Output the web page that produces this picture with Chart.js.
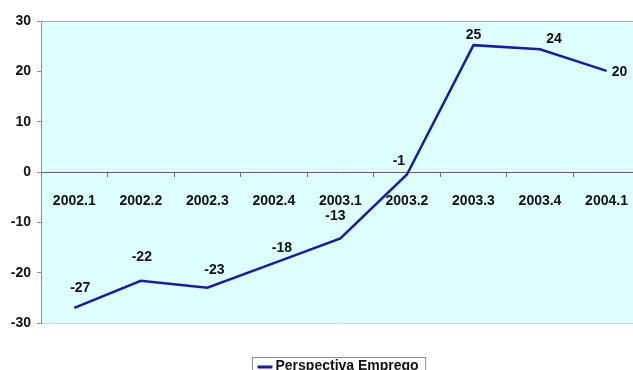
<!DOCTYPE html>
<html>
<head>
<meta charset="utf-8">
<script src="https://cdn.jsdelivr.net/npm/chart.js@4.4.1/dist/chart.umd.min.js"></script>
<style>
  html, body { margin: 0; padding: 0; background: #ffffff; overflow: hidden; }
  #wrap { width: 645px; height: 370px; }
</style>
</head>
<body>
<div id="wrap"><canvas id="chart" width="645" height="370"></canvas></div>
<script>
// Quarterly employment outlook balance
const quarters = ['2002.1', '2002.2', '2002.3', '2002.4', '2003.1', '2003.2', '2003.3', '2003.4', '2004.1'];
const emprego = [-27.0, -21.6, -23.0, -18.1, -13.2, -0.5, 25.2, 24.4, 20.1];
const seriesName = 'Perspectiva Emprego';
const yTicks = [-30, -20, -10, 0, 10, 20, 30];

// Placement of each value label relative to its point (dx, dy in px)
const labelShift = [[6, -20], [1, -24], [7, -18], [8, -15], [-5, -22], [-8, -13], [0, -10], [14, -10], [13, 1]];

const FONT = '"Liberation Sans", Arial, sans-serif';
const LINE = '#1a1aaa';
const INK = '#111111';

// Excel-style rounding (half away from zero)
function roundLabel(v) { return Math.sign(v) * Math.round(Math.abs(v)); }

const plotFrame = {
  id: 'plotFrame',
  beforeDraw(chart) {
    const { ctx, chartArea: a } = chart;
    ctx.save();
    ctx.fillStyle = '#ddffff';
    ctx.fillRect(a.left, a.top, a.right - a.left, a.bottom - a.top);
    ctx.lineWidth = 1;
    ctx.strokeStyle = '#a8a8a8';
    ctx.beginPath();
    ctx.moveTo(a.left, a.top + 0.5);
    ctx.lineTo(a.right, a.top + 0.5);
    ctx.stroke();
    ctx.strokeStyle = '#c4dede';
    ctx.beginPath();
    ctx.moveTo(a.left, a.bottom + 0.5);
    ctx.lineTo(a.right, a.bottom + 0.5);
    ctx.stroke();
    ctx.restore();
  }
};

const valueLabels = {
  id: 'valueLabels',
  afterDatasetsDraw(chart) {
    const { ctx } = chart;
    const meta = chart.getDatasetMeta(0);
    ctx.save();
    ctx.font = 'bold 14px ' + FONT;
    ctx.fillStyle = INK;
    ctx.textAlign = 'center';
    ctx.textBaseline = 'middle';
    meta.data.forEach((pt, i) => {
      const v = chart.data.datasets[0].data[i];
      const [dx, dy] = labelShift[i];
      ctx.fillText(String(roundLabel(v)), pt.x + dx, pt.y + dy);
    });
    ctx.restore();
  }
};

const boxLegend = {
  id: 'boxLegend',
  afterDraw(chart) {
    const { ctx } = chart;
    const ds = chart.data.datasets[0];
    ctx.save();
    ctx.font = 'bold 14px ' + FONT;
    const tw = ctx.measureText(ds.label).width;
    const x0 = 252.5, y0 = 357.5;
    const w = tw + 30;
    ctx.fillStyle = '#ffffff';
    ctx.fillRect(x0, y0, w, 30);
    ctx.strokeStyle = '#8a8a8a';
    ctx.lineWidth = 1;
    ctx.strokeRect(x0, y0, w, 30);
    ctx.strokeStyle = ds.borderColor;
    ctx.lineWidth = 3;
    ctx.beginPath();
    ctx.moveTo(x0 + 5, 367);
    ctx.lineTo(x0 + 20, 367);
    ctx.stroke();
    ctx.fillStyle = INK;
    ctx.textBaseline = 'alphabetic';
    ctx.fillText(ds.label, x0 + 23, 370);
    ctx.restore();
  }
};

new Chart(document.getElementById('chart'), {
  type: 'line',
  data: {
    labels: quarters,
    datasets: [{
      label: seriesName,
      data: emprego,
      borderColor: LINE,
      backgroundColor: LINE,
      borderWidth: 2.5,
      pointRadius: 0,
      tension: 0,
      fill: false
    }]
  },
  options: {
    responsive: false,
    animation: false,
    layout: { padding: { top: 21, bottom: 47, left: 0, right: 1 } },
    plugins: { legend: { display: false }, tooltip: { enabled: false } },
    scales: {
      x: {
        position: { y: 0 },
        offset: true,
        grid: { offset: true, drawOnChartArea: false, drawTicks: true, tickLength: 4, color: '#707070' },
        border: { display: true, color: '#606060', width: 1 },
        ticks: { font: { family: FONT, size: 14, weight: 'bold' }, color: INK, padding: 17, maxRotation: 0, autoSkip: false }
      },
      y: {
        min: -30,
        max: 30,
        afterBuildTicks(scale) { scale.ticks = yTicks.map(v => ({ value: v })); },
        afterFit(scale) { scale.width = 41; },
        grid: { drawOnChartArea: false, drawTicks: true, tickLength: 4, color: '#909090' },
        border: { display: true, color: '#8c8c8c', width: 1 },
        ticks: { font: { family: FONT, size: 14, weight: 'bold' }, color: INK, padding: 6 }
      }
    }
  },
  plugins: [plotFrame, valueLabels, boxLegend]
});
</script>
</body>
</html>
